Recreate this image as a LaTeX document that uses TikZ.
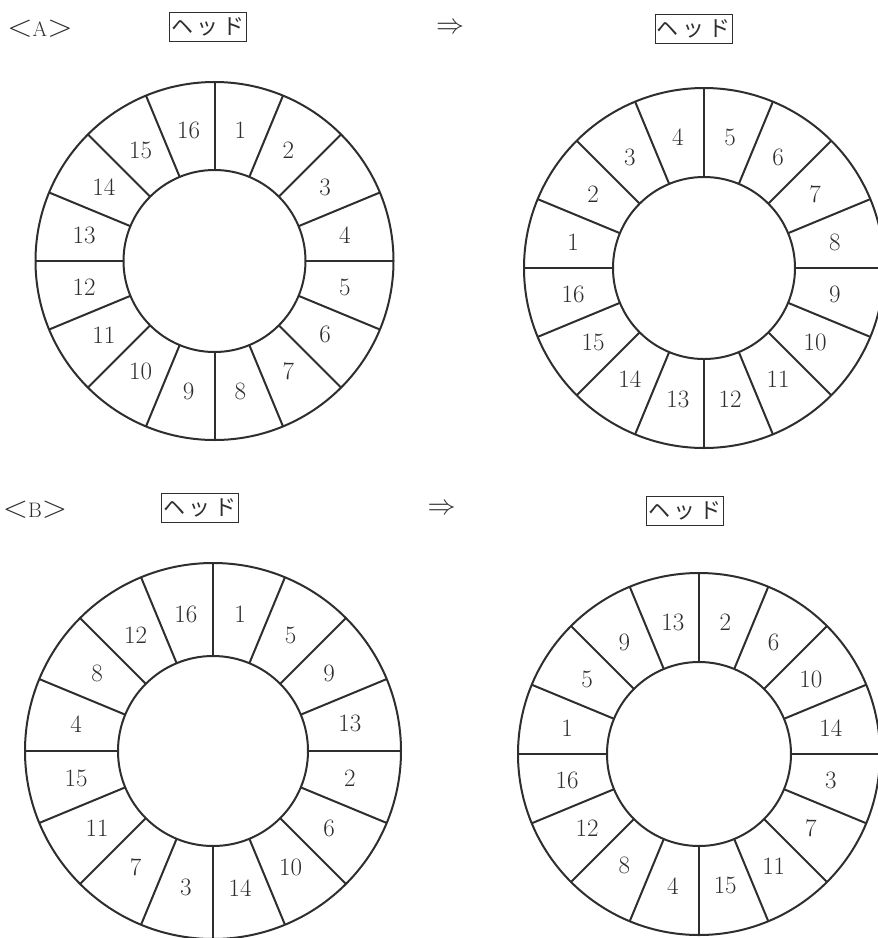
\documentclass[tikz,border=0pt]{standalone}
\usepackage{fontspec}
\usepackage{graphicx}
\usetikzlibrary{calc}
\newfontfamily\jpfont{Noto Sans CJK JP}
\newcommand{\kakko}[1]{\scalebox{1.6}[1.5]{$<$}#1\scalebox{1.6}[1.5]{$>$}}

\begin{document}
\begin{tikzpicture}[x=1pt,y=1pt,color=black!82]
    \tikzset{
        head/.style={
            draw,
            line width=0.9pt,
            minimum width=77pt,
            minimum height=29pt,
            inner sep=0pt,
            font=\jpfont\fontsize{22}{22}\selectfont
        },
        brk/.style={font=\fontsize{21}{21}\selectfont,inner sep=0pt},
        arr/.style={font=\fontsize{20}{20}\selectfont,inner sep=0pt},
        num/.style={font=\fontsize{25}{25}\selectfont,inner sep=0pt},
        ring/.style={line width=2pt}
    }
    \useasboundingbox (0,0) rectangle (878,-938);

    \node[brk] (tagA) at (40,-29) {\kakko{A}};
    \node[head] (headA) at (208,-26.5) {ヘ\,ッ\,ド};
    \node[arr] (toA) at (450,-28) {\scalebox{1.35}{$\Rightarrow$}};
    \node[head] (headA2) at (693.5,-28.5) {ヘ\,ッ\,ド};

    \node[brk] (tagB) at (35,-510) {\kakko{B}};
    \node[head] (headB) at (200,-507.5) {ヘ\,ッ\,ド};
    \node[arr] (toB) at (441.5,-509) {\scalebox{1.35}{$\Rightarrow$}};
    \node[head] (headB2) at (685,-511) {ヘ\,ッ\,ド};

    % 16 sectors per ring, labels clockwise from the top
    \foreach \nm/\cx/\cy/\ro/\ri/\labs in {
        a/214.5/-261/179/91/{1,2,...,16},
        aa/704/-268/180/91/{5,6,...,16,1,2,3,4},
        b/213/-751/188/95/{1,5,9,13,2,6,10,14,3,7,11,15,4,8,12,16},
        bb/699/-754/181/92/{2,6,10,14,3,7,11,15,4,8,12,16,1,5,9,13}}
    {
        \coordinate (\nm) at (\cx,\cy);
        \draw[ring] (\nm) circle[radius=\ro] (\nm) circle[radius=\ri];
        \foreach \lab [count=\k from 0] in \labs {
            \draw[ring] ($(\nm)+({90-22.5*\k}:\ri)$) -- ($(\nm)+({90-22.5*\k}:\ro)$);
            \node[num] (\nm-\lab) at ($(\nm)+({78.75-22.5*\k}:{(\ro+\ri)/2-2})$) {\lab};
        }
    }
\end{tikzpicture}
\end{document}
